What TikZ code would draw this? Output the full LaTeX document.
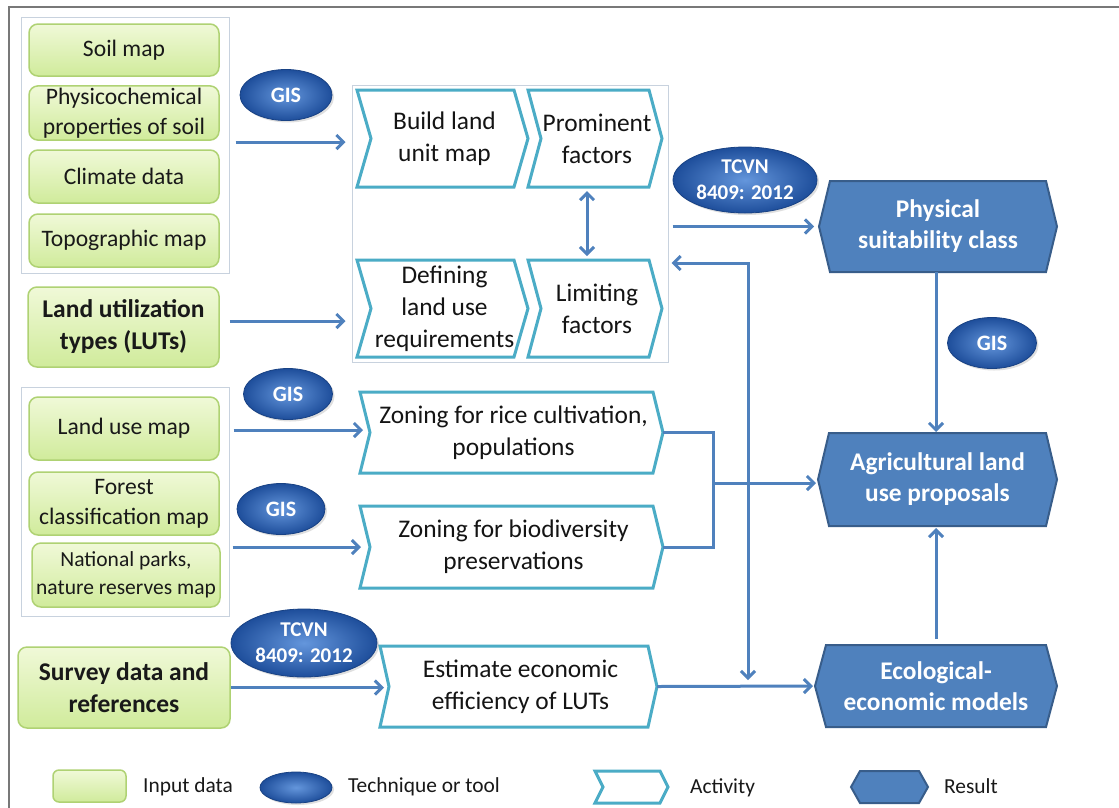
\documentclass[tikz,border=0pt]{standalone}
\usepackage{fontspec}
\setmainfont{Carlito}
\usetikzlibrary{arrows.meta,shapes.geometric,shadows,calc}

\definecolor{inbord}{RGB}{175,210,115}
\definecolor{intop}{RGB}{240,249,216}
\definecolor{inbot}{RGB}{208,235,155}
\definecolor{actc}{RGB}{75,172,198}
\definecolor{resfill}{RGB}{79,129,189}
\definecolor{resbord}{RGB}{56,93,138}
\definecolor{arrc}{RGB}{79,129,189}
\definecolor{grpc}{RGB}{200,210,222}
\definecolor{framec}{RGB}{120,120,120}
\definecolor{ellin}{RGB}{100,150,220}
\definecolor{ellout}{RGB}{30,78,155}

\tikzset{
  inbox/.style={draw=inbord, line width=1.5pt, rounded corners=9pt, top color=intop, bottom color=inbot,
    minimum width=190pt, align=center, text=black!90, font=\fontsize{23.6}{30}\selectfont, inner sep=2pt},
  inboxb/.style={inbox, font=\bfseries\fontsize{25.5}{32}\selectfont},
  grp/.style={draw=grpc, line width=1pt, inner sep=0pt},
  tool/.style={ellipse, draw=ellout!85!black, line width=0.8pt, inner color=ellin, outer color=ellout,
    text=white, font=\bfseries\fontsize{22}{26}\selectfont, inner sep=0pt, align=center,
    drop shadow={opacity=0.25, shadow xshift=2pt, shadow yshift=-2pt}},
  tcvn/.style={tool, font=\bfseries\fontsize{21}{26}\selectfont},
  actline/.style={draw=actc, line width=3pt, fill=white, line join=miter},
  acttext/.style={align=center, text=black!92, font=\fontsize{25.4}{32}\selectfont, inner sep=0pt},
  resline/.style={draw=resbord, line width=2pt, fill=resfill, line join=miter},
  restext/.style={align=center, text=white, font=\bfseries\fontsize{25.4}{31}\selectfont, inner sep=0pt},
  conn/.style={draw=arrc, line width=3pt},
  arr/.style={conn, -{Straight Barb[length=7pt,width=14pt,line width=3pt]}},
  darr/.style={conn, {Straight Barb[length=7pt,width=14pt,line width=3pt]}-{Straight Barb[length=7pt,width=14pt,line width=3pt]}},
  legtext/.style={anchor=west, text=black!90, font=\fontsize{21.4}{26}\selectfont, inner sep=0pt}
}

% activity chevron: name, x1, y1, x2 (tip), y2, depth, text
\newcommand\actbox[7]{%
  \draw[actline] (#2,#3) -- ({#4-#6},#3) -- (#4,{(#3+#5)/2}) -- ({#4-#6},#5) -- (#2,#5) -- ({#2+#6},{(#3+#5)/2}) -- cycle;
  \node[acttext] (#1) at ({(#2+#4)/2+2},{(#3+#5)/2}) {#7};
  \coordinate (#1-in) at (#2,{(#3+#5)/2});
  \coordinate (#1-out) at (#4,{(#3+#5)/2});
  \coordinate (#1-n) at ({(#2+#4)/2},#3);
  \coordinate (#1-s) at ({(#2+#4)/2},#5);
}
% result hexagon: name, x1 (point), y1, x2 (point), y2, inset, text
\newcommand\resbox[7]{%
  \draw[resline] (#2,{(#3+#5)/2}) -- ({#2+#6},#3) -- ({#4-#6},#3) -- (#4,{(#3+#5)/2}) -- ({#4-#6},#5) -- ({#2+#6},#5) -- cycle;
  \node[restext] (#1) at ({(#2+#4)/2},{(#3+#5)/2}) {#7};
  \coordinate (#1-w) at (#2,{(#3+#5)/2});
  \coordinate (#1-n) at (936,#3);
  \coordinate (#1-s) at (936,#5);
}

\begin{document}
\begin{tikzpicture}[x=1pt,y=-1pt]
\useasboundingbox (0,0) rectangle (1119,807);
\fill[white] (0,0) rectangle (1119,807);
% outer frame
\draw[framec, line width=2pt] (9,815) -- (9,7) -- (1125,7);

% group boxes
\node[grp, minimum width=208pt, minimum height=256pt] (grp1) at (125,145) {};
\node[grp, minimum width=208pt, minimum height=229pt] (grp2) at (125,501.5) {};
\node[grp, minimum width=316pt, minimum height=277pt] (actgrp) at (510,223.5) {};

% input data
\node[inbox, minimum height=52pt] (soil) at (124,50) {Soil map};
\node[inbox, minimum height=54pt] (phys) at (124,113) {Physicochemical\\properties of soil};
\node[inbox, minimum height=53pt] (clim) at (124,176.5) {Climate data};
\node[inbox, minimum height=53pt] (topo) at (124,240.5) {Topographic map};
\node[inboxb, minimum width=191pt, minimum height=80pt] (luts) at (123.5,327) {Land utilization\\types (LUTs)};
\node[inbox, minimum height=63pt] (lum) at (124,428.5) {Land use map};
\node[inbox, minimum height=63pt] (forest) at (124,503.5) {Forest\\classification map};
\node[inbox, minimum width=188pt, minimum height=64pt, font=\fontsize{21.5}{28}\selectfont] (parks) at (126,575) {National parks,\\nature reserves map};
\node[inboxb, minimum width=212pt, minimum height=81pt] (survey) at (124,687.5) {Survey data and\\references};

% activities
\actbox{build}{357}{90}{528}{187}{14}{Build land\\unit map}
\actbox{prom}{528}{90}{662}{187}{13}{Prominent\\factors}
\actbox{defin}{357}{260}{528}{357}{14}{Defining\\land use\\requirements}
\actbox{limit}{528}{260}{662}{357}{13}{Limiting\\factors}
\actbox{rice}{360}{392}{663}{473}{10}{Zoning for rice cultivation,\\populations}
\actbox{bio}{360}{506}{663}{588}{10}{Zoning for biodiversity\\preservations}
\actbox{est}{380}{646}{657}{727}{9}{Estimate economic\\efficiency of LUTs}

% results
\resbox{physc}{819}{181}{1057}{272}{11}{Physical\\suitability class}
\resbox{agri}{818}{433}{1057}{526}{11}{Agricultural land\\use proposals}
\resbox{ecol}{815}{645}{1057}{727}{11}{Ecological-\\economic models}

% tools
\node[tool, minimum width=92pt, minimum height=51pt] (gis1) at (286,95) {GIS};
\node[tool, minimum width=89pt, minimum height=51pt] (gis2) at (288,394) {GIS};
\node[tool, minimum width=88pt, minimum height=51pt] (gis3) at (281,509) {GIS};
\node[tool, minimum width=89pt, minimum height=51pt] (gis4) at (992,343) {GIS};
\node[tcvn, minimum width=144pt, minimum height=66pt] (tcvn1) at (745,180) {TCVN\\8409: 2012};
\node[tcvn, minimum width=146pt, minimum height=68pt] (tcvn2) at (304,643) {TCVN\\8409: 2012};

% connectors
\draw[arr, shorten <=6pt, shorten >=6pt] (grp1.east |- 0,142) coordinate (g1o) -- (g1o -| actgrp.west);
\draw[arr, shorten <=10pt, shorten >=6pt] (luts.east |- 0,321) coordinate (lo) -- (lo -| actgrp.west);
\draw[arr, shorten <=4pt, shorten >=5pt] (physc-w -| actgrp.east) -- (physc-w);
\coordinate (fb) at (748,263);
\draw[darr, shorten <=3pt, shorten >=6pt] (fb -| actgrp.east) -- (fb) -- (fb |- ecol-w);
\draw[darr, shorten <=4pt, shorten >=4pt] ($(prom-s)+(-8,0)$) -- ($(limit-n)+(-8,0)$);
\coordinate (join) at (713,483);
\draw[conn] (rice-out) -| (join) |- (bio-out);
\draw[arr, shorten >=2pt] (join) -- (join -| agri-w);
\draw[arr, shorten >=2pt] (est-out) -- (ecol-w);
\draw[arr, shorten >=1pt] (physc-s) -- (agri-n);
\draw[arr, shorten <=6pt, shorten >=2pt] (ecol-n) -- (agri-s);
\draw[arr, shorten <=4pt, shorten >=-3pt] (grp2.east |- 0,430) coordinate (lo2) -- (lo2 -| rice-in);
\draw[arr, shorten <=3pt, shorten >=-1pt] (bio-in -| grp2.east) -- (bio-in);
\draw[arr, shorten >=-4pt] (survey.east) -- (survey.east -| est-in);

% legend
\node[inbox, minimum width=73pt, minimum height=32pt, rounded corners=6pt] (lgin) at (89.5,786) {};
\node[legtext] (lgint) at (143,787) {Input data};
\node[tool, minimum width=72pt, minimum height=31pt] (lgtool) at (296,787.5) {};
\node[legtext] (lgtoolt) at (348,787) {Technique or tool};
\draw[actline] (595,771) -- (660,771) -- (668,787) -- (660,803) -- (595,803) -- (603,787) -- cycle;
\node[legtext] (lgactt) at (690,788) {Activity};
\draw[resline] (851,787) -- (860,771) -- (919,771) -- (928,787) -- (919,803) -- (860,803) -- cycle;
\node[legtext] (lgrest) at (944,786) {Result};
\end{tikzpicture}
\end{document}
